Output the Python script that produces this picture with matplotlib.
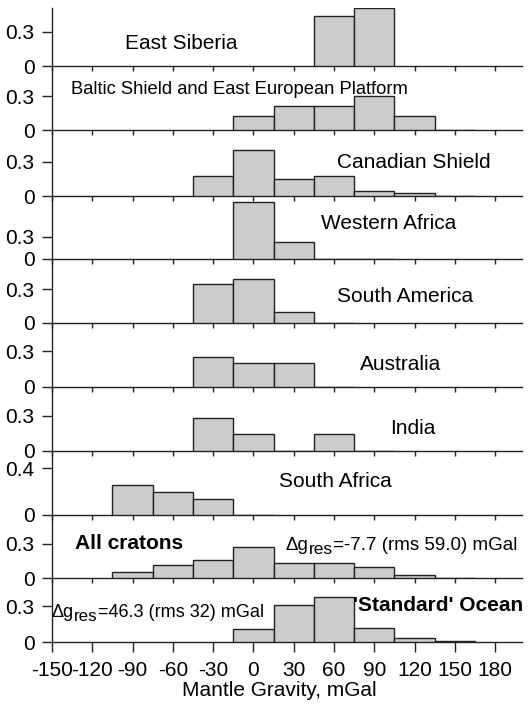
import numpy as np
import matplotlib
matplotlib.use("Agg")
import matplotlib.pyplot as plt

plt.rcParams["font.family"] = "Liberation Sans"
plt.rcParams["axes.unicode_minus"] = False

# bin centres (30 mGal bins) and fraction of cells per bin, None = no bar
bin_centers = [-90, -60, -30, 0, 30, 60, 90, 120, 150]

east_siberia = [None, None, None, None, None, 0.44, 0.51, None, None]
baltic = [None, None, None, 0.128, 0.214, 0.214, 0.30, 0.128, 0.0]
canadian = [None, None, 0.174, 0.40, 0.153, 0.174, 0.044, 0.027, 0.0]
western_africa = [None, None, None, 0.76, 0.23, 0.0, 0.0, None, None]
south_america = [None, None, 0.345, 0.39, 0.097, 0.0, None, None, None]
australia = [None, None, 0.25, 0.20, 0.20, 0.0, None, None, None]
india = [None, None, 0.285, 0.146, 0.0, 0.146, 0.0, None, None]
south_africa = [0.256, 0.196, 0.135, 0.0, None, None, None, None, None]
all_cratons = [0.05, 0.11, 0.16, 0.27, 0.134, 0.129, 0.10, 0.03, 0.0]
ocean = [None, None, None, 0.112, 0.313, 0.378, 0.12, 0.036, 0.008]

panels = [east_siberia, baltic, canadian, western_africa, south_america,
          australia, india, south_africa, all_cratons, ocean]

x_ticks = [-150, -120, -90, -60, -30, 0, 30, 60, 90, 120, 150, 180]

# layout in pixels (figure is 530 x 707)
W, H = 530, 707
baselines = [66, 130, 196, 259, 323, 387, 451, 515, 578, 642]
tops = [8] + baselines[:-1]
ymax = [0.51, 0.57, 0.58, 0.845, 0.566, 0.54, 0.547, 0.55, 0.55, 0.54]
yticks = [[0, 0.3]] * 7 + [[0, 0.4]] + [[0, 0.3]] * 2
ax_left, ax_right = 52, 522

line_col = "#222222"

fig = plt.figure(figsize=(W / 100, H / 100), dpi=100)


def res_label(ax, x, y, value, fs=13.5, fs_sub=12.5):
    # "Δg" + lowered "res" + "=... mGal", pieces chained left to right
    t1 = ax.text(x, y, "\u0394g", fontsize=fs, va="baseline", ha="left")
    t2 = ax.annotate("res", xy=(1, 0), xycoords=t1, fontsize=fs_sub,
                     va="baseline", ha="left")
    ax.annotate(value, xy=(1, 0), xycoords=(t2, t1), fontsize=fs,
                va="bottom", ha="left")


axes = []
for i, vals in enumerate(panels):
    bottom = 1 - baselines[i] / H
    height = (baselines[i] - tops[i]) / H
    ax = fig.add_axes([ax_left / W, bottom, (ax_right - ax_left) / W, height])
    axes.append(ax)

    xs = [c for c, v in zip(bin_centers, vals) if v is not None]
    hs = [v for v in vals if v is not None]
    ax.bar(xs, hs, width=30, color="#cccccc", edgecolor=line_col,
           linewidth=1.0, zorder=3)

    ax.set_xlim(-150, 200)
    ax.set_ylim(0, ymax[i])
    ax.set_xticks(x_ticks)
    ax.set_yticks(yticks[i])
    ax.set_yticklabels(["0" if t == 0 else f"{t:.1f}" for t in yticks[i]],
                       fontsize=15)
    for s in ["top", "right"]:
        ax.spines[s].set_visible(False)
    for s in ["left", "bottom"]:
        ax.spines[s].set_color(line_col)
        ax.spines[s].set_linewidth(1.0)
    ax.patch.set_alpha(0)
    ax.tick_params(axis="y", direction="out", length=7.5, width=1.0,
                   color=line_col, pad=5)
    if i < len(panels) - 1:
        ax.tick_params(axis="x", direction="out", length=3.5, width=1.0,
                       color=line_col, labelbottom=False)
    else:
        ax.tick_params(axis="x", direction="out", length=7.5, width=1.0,
                       color=line_col, labelsize=15, pad=6)
        ax.set_xticklabels([str(t) for t in x_ticks])
        ax.set_xlabel("Mantle Gravity, mGal", fontsize=15)
        ax.xaxis.label.set_va("center")
        ax.xaxis.set_label_coords((279 - ax_left) / (ax_right - ax_left),
                                  -(690 - baselines[i]) / (baselines[i] - tops[i]))

# panel names
axes[0].text(-96, 0.2, "East Siberia", fontsize=15, va="center", ha="left")
axes[1].text(-136, 0.36, "Baltic Shield and East European Platform",
             fontsize=13.2, va="center", ha="left")
axes[2].text(62, 0.29, "Canadian Shield", fontsize=15, va="center", ha="left")
axes[3].text(50, 0.48, "Western Africa", fontsize=15, va="center", ha="left")
axes[4].text(62, 0.23, "South America", fontsize=15, va="center", ha="left")
axes[5].text(79, 0.19, "Australia", fontsize=15, va="center", ha="left")
axes[6].text(102, 0.19, "India", fontsize=15, va="center", ha="left")
axes[7].text(19, 0.29, "South Africa", fontsize=15, va="center", ha="left")
axes[8].text(-133, 0.30, "All cratons", fontsize=15, fontweight="bold",
             va="center", ha="left")
res_label(axes[8], 24, 0.245, "=-7.7 (rms 59.0) mGal")
axes[9].text(201, 0.31, "'Standard' Ocean", fontsize=15, fontweight="bold",
             va="center", ha="right")
res_label(axes[9], -150, 0.21, "=46.3 (rms 32) mGal", fs=13.1, fs_sub=12.2)

fig.savefig("out.png", dpi=100)
